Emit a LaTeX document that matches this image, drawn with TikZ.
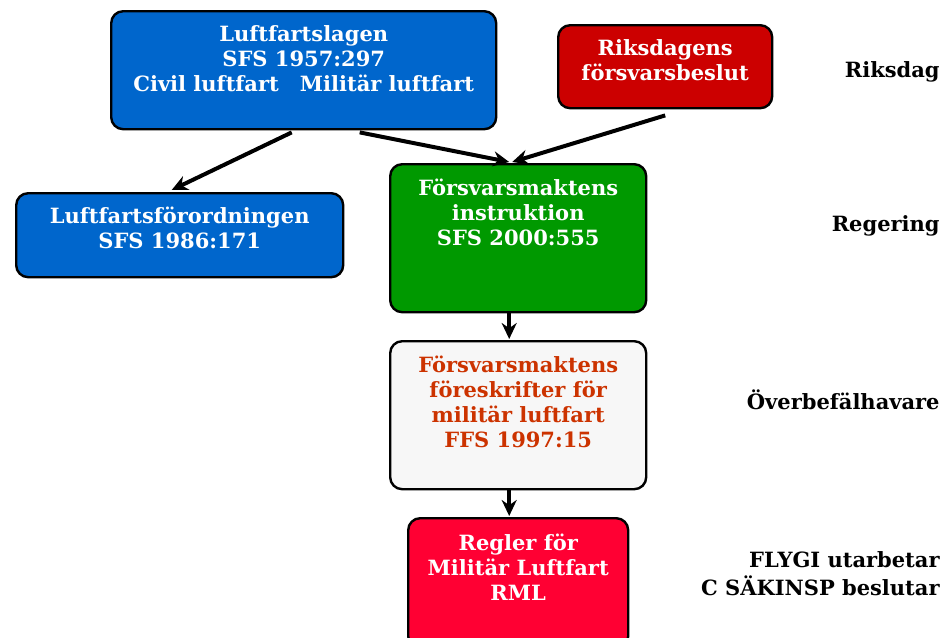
\documentclass[tikz,border=0pt]{standalone}
\usepackage{tikz}
\usepackage{fontspec}
\setmainfont{DejaVu Serif}
\usetikzlibrary{arrows.meta,calc}
\definecolor{lb}{RGB}{0, 102, 204}
\definecolor{rd}{RGB}{204, 0, 0}
\definecolor{gr}{RGB}{0, 153, 0}
\definecolor{ly}{RGB}{247, 247, 247}
\definecolor{or}{RGB}{204, 51, 0}
\definecolor{rr}{RGB}{255, 0, 51}
\tikzset{
  box/.style={draw=black, line width=1.2pt, rounded corners=6pt, anchor=north west},
  btext/.style={anchor=north, align=center, inner sep=0pt, font=\fontsize{10.5}{12.5}\selectfont\bfseries, text=white},
  level/.style={anchor=east, align=right, inner sep=0pt, font=\fontsize{10.5}{14}\selectfont\bfseries},
  arr/.style={->, line width=2pt}
}

\begin{document}
\begin{tikzpicture}[x=0.5pt, y=-0.5pt, >={Stealth[length=8pt,width=7.5pt]}]
      \useasboundingbox (0,0) rectangle (951,637);
      \node[box, fill=lb, minimum width=192.5pt, minimum height=59pt] (lag) at (110,10) {};
      \node[box, fill=rd, minimum width=107pt, minimum height=41.5pt] (riks) at (557,24) {};
      \node[box, fill=lb, minimum width=163.5pt, minimum height=42pt] (ford) at (15,192) {};
      \node[box, fill=gr, minimum width=128pt, minimum height=74pt] (instr) at (389,163) {};
      \node[box, fill=ly, minimum width=128pt, minimum height=74pt] (fores) at (389,340) {};
      \node[box, fill=rr, minimum width=110pt, minimum height=65pt] (rml) at (407,517) {};

      \node[btext] (lagT) at ([yshift=-7.5pt]lag.north) {Luftfartslagen\\SFS 1957:297\\Civil luftfart\quad Militär luftfart};
      \node[btext] (riksT) at ([yshift=-7.5pt]riks.north) {Riksdagens\\försvarsbeslut};
      \node[btext] (fordT) at ([yshift=-7.5pt]ford.north) {Luftfartsförordningen\\SFS 1986:171};
      \node[btext] (instrT) at ([yshift=-8pt]instr.north) {Försvarsmaktens\\instruktion\\SFS 2000:555};
      \node[btext, text=or] (foresT) at ([yshift=-8pt]fores.north) {Försvarsmaktens\\föreskrifter för\\militär luftfart\\FFS 1997:15};
      \node[btext] (rmlT) at ([yshift=-8.5pt]rml.north) {Regler för\\Militär Luftfart\\RML};

      \node[level] (L1) at (940,72)  {Riksdag};
      \node[level] (L2) at (940,226) {Regering};
      \node[level] (L3) at (940,400) {Överbefälhavare};
      \node[level] (L4) at (940,574) {FLYGI utarbetar\\C SÄKINSP beslutar};

      \draw[arr] ([xshift=-6pt,yshift=-1pt]lag.south) -- ([xshift=-4pt,yshift=1pt]ford.north);
      \draw[arr] ([xshift=28pt,yshift=-1pt]lag.south) -- ([xshift=-4.5pt,yshift=0.5pt]instr.north);
      \draw[arr] ([yshift=-3pt]riks.south) -- ([xshift=-3pt,yshift=0.5pt]instr.north);
      \draw[arr] ([xshift=-4.5pt]instr.south) -- ([xshift=-4.5pt,yshift=0.5pt]fores.north);
      \draw[arr] ([xshift=-4.5pt]fores.south) -- ([xshift=-4.5pt,yshift=0.5pt]rml.north);
    \end{tikzpicture}
\end{document}
